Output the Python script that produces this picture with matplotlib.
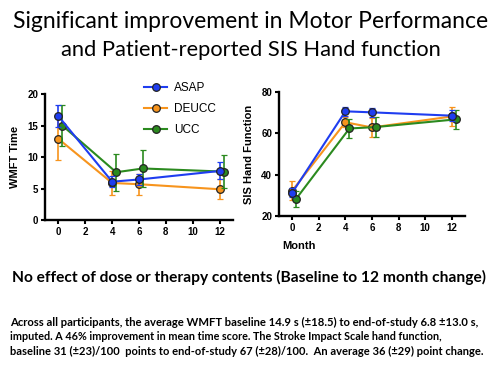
import matplotlib
matplotlib.use("Agg")
import matplotlib.pyplot as plt
from matplotlib.lines import Line2D
import numpy as np

# data (mean, half error bar)
months = [0, 4, 6, 12]
groups = ["ASAP", "DEUCC", "UCC"]
colors = {"ASAP": "#1f3df0", "DEUCC": "#f7941d", "UCC": "#2b8a1f"}

wmft_mean = {
    "ASAP": [16.5, 6.1, 6.45, 7.8],
    "DEUCC": [12.9, 5.9, 5.7, 4.9],
    "UCC": [15.0, 7.6, 8.2, 7.7],
}
wmft_err = {
    "ASAP": [1.75, 0.85, 0.8, 1.35],
    "DEUCC": [3.4, 1.9, 1.7, 1.6],
    "UCC": [3.2, 2.9, 3.0, 2.6],
}
sis_mean = {
    "ASAP": [31.3, 70.6, 70.1, 68.5],
    "DEUCC": [32.3, 65.3, 62.8, 68.1],
    "UCC": [28.4, 62.3, 63.0, 66.7],
}
sis_err = {
    "ASAP": [2.2, 2.2, 2.2, 2.5],
    "DEUCC": [4.4, 2.5, 4.7, 4.5],
    "UCC": [3.9, 4.8, 5.0, 4.7],
}

title_lines = ["Significant improvement in Motor Performance",
               "and Patient-reported SIS Hand function"]
subtitle = "No effect of dose or therapy contents (Baseline to 12 month change)"
para = ["Across all participants, the average WMFT baseline 14.9 s (\u00b118.5) to end-of-study 6.8 \u00b113.0 s,",
        "imputed. A 46% improvement in mean time score. The Stroke Impact Scale hand function,",
        "baseline 31 (\u00b123)/100  points to end-of-study 67 (\u00b128)/100.  An average 36 (\u00b129) point change."]

shift = {"ASAP": 0.0, "DEUCC": 0.0, "UCC": 0.3}
zord = {"ASAP": 4, "DEUCC": 2, "UCC": 3}

fig = plt.figure(figsize=(5, 3.75), dpi=100)
fig.patch.set_facecolor("white")

ax1 = fig.add_axes([0.09, 0.413, 0.376, 0.336])
ax2 = fig.add_axes([0.558, 0.424, 0.372, 0.331])

lab_font = dict(fontsize=8, fontweight="bold", family="Liberation Sans")
mk = dict(marker="o", ms=5.5, mec="#222222", mew=0.9)


def draw(ax, means, errs):
    for g in groups:
        x = np.array(months) + shift[g]
        ax.errorbar(x, means[g], yerr=errs[g], color=colors[g], lw=1.5,
                    elinewidth=1.2, capsize=2.5, capthick=1.2,
                    mfc=colors[g], zorder=zord[g], clip_on=False, **mk)
    for s in ["top", "right"]:
        ax.spines[s].set_visible(False)
    for s in ["left", "bottom"]:
        ax.spines[s].set_linewidth(1.7)
    ax.set_xlim(-1, 13)
    ax.set_xticks([0, 2, 4, 6, 8, 10, 12])
    ax.tick_params(width=1.5, length=3, labelsize=7, pad=2)
    for lab in ax.get_xticklabels() + ax.get_yticklabels():
        lab.set_fontweight("bold")
        lab.set_family("Liberation Sans")


draw(ax1, wmft_mean, wmft_err)
ax1.set_ylim(0, 20)
ax1.set_yticks([0, 5, 10, 15, 20])
ax1.set_ylabel("WMFT Time", labelpad=5, **lab_font)
handles = [Line2D([], [], color=colors[g], lw=1.5, mfc=colors[g], **mk) for g in groups]
ax1.legend(handles, groups, loc="upper left", bbox_to_anchor=(0.5, 1.13), frameon=False,
           prop={"family": "Liberation Sans", "size": 8.5}, handlelength=2.0,
           handletextpad=0.6, labelspacing=0.75, borderaxespad=0)

draw(ax2, sis_mean, sis_err)
ax2.set_ylim(20, 80)
ax2.set_yticks([20, 40, 60, 80])
ax2.set_ylabel("SIS Hand Function", labelpad=5, **lab_font)
ax2.set_xlabel("Month", **lab_font)
ax2.xaxis.set_label_coords(0.02, -0.2)
ax2.xaxis.label.set_ha("left")

fig.canvas.draw()
rend = fig.canvas.get_renderer()


def put(x, y, s, width, size, weight="normal", ha="center"):
    t = fig.text(x / 500, 1 - y / 375, s, ha=ha, va="center", fontsize=size,
                 fontweight=weight, family=["Lato", "DejaVu Sans"])
    w = t.get_window_extent(rend).width
    t.set_fontsize(size * width / w)
    return t


put(251, 22, title_lines[0], 477, 14)
put(251, 50, title_lines[1], 383, 14)
put(249, 277, subtitle, 473, 10, weight="bold")
put(10, 322.5, para[0], 474, 7, weight="bold", ha="left")
put(10, 337, para[1], 432, 7, weight="bold", ha="left")
put(10, 351, para[2], 473, 7, weight="bold", ha="left")

fig.savefig("out.png", dpi=100, facecolor="white")
